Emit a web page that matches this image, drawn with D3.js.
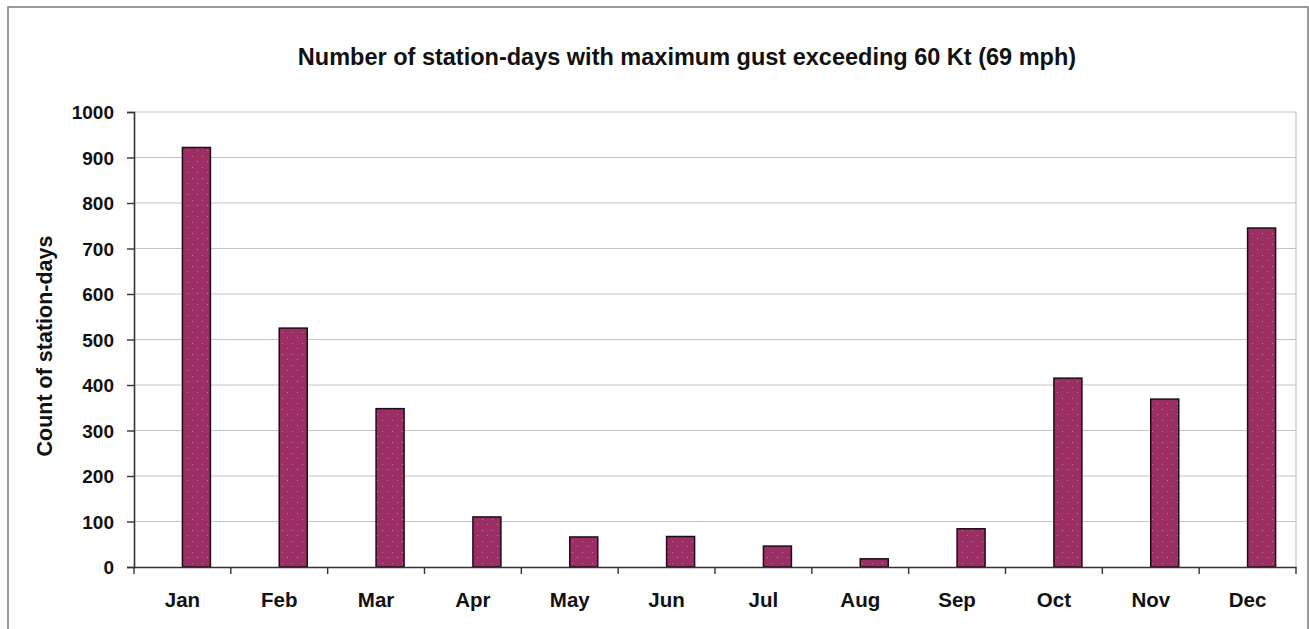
<!DOCTYPE html>
<html>
<head>
<meta charset="utf-8">
<script src="https://cdn.jsdelivr.net/npm/d3@7"></script>
<style>
  html, body { margin: 0; padding: 0; background: #fff; }
  svg { display: block; }
  text { font-family: "Liberation Sans", Arial, sans-serif; font-weight: bold; fill: #111; }
</style>
</head>
<body>
<svg id="chart" width="1309" height="629"></svg>
<script>
const months = ["Jan","Feb","Mar","Apr","May","Jun","Jul","Aug","Sep","Oct","Nov","Dec"];
const counts = [922, 525, 348, 110, 66, 67, 46, 18, 84, 415, 369, 745];
const yTicks = [0, 100, 200, 300, 400, 500, 600, 700, 800, 900, 1000];
const titleText = "Number of station-days with maximum gust exceeding 60 Kt (69 mph)";
const yLabel = "Count of station-days";
const slots = ["empty", "count"];

const W = 1309, H = 629;
const plot = { left: 134, right: 1296, top: 112, bottom: 567 };

const svg = d3.select("#chart");

// pattern for dotted bar fill
const defs = svg.append("defs");
const pat = defs.append("pattern")
  .attr("id", "dots").attr("patternUnits", "userSpaceOnUse")
  .attr("width", 10).attr("height", 11);
pat.append("rect").attr("width", 10).attr("height", 11).attr("fill", "#9b2f63");
pat.append("rect").attr("x", 2).attr("y", 2).attr("width", 1).attr("height", 1).attr("fill", "#c4789a");
pat.append("rect").attr("x", 7).attr("y", 7).attr("width", 1).attr("height", 1).attr("fill", "#c4789a");

// outer frame
svg.append("rect").attr("x", 8).attr("y", 7).attr("width", 1300).attr("height", 640)
  .attr("fill", "#fff").attr("stroke", "#7a7a7a").attr("stroke-width", 1.5);

const x = d3.scaleBand().domain(months).range([plot.left, plot.right]).paddingInner(0).paddingOuter(0);
const xInner = d3.scaleBand().domain(slots).range([0, x.bandwidth()]).paddingInner(0).paddingOuter(0.729);
const y = d3.scaleLinear().domain([0, 1000]).range([plot.bottom, plot.top]);

// gridlines
svg.append("g").selectAll("line").data(yTicks.filter(d => d > 0)).join("line")
  .attr("x1", plot.left).attr("x2", plot.right)
  .attr("y1", d => y(d)).attr("y2", d => y(d))
  .attr("stroke", "#c4c4c4").attr("stroke-width", 1.2);

// right plot border
svg.append("line").attr("x1", plot.right).attr("x2", plot.right)
  .attr("y1", plot.top).attr("y2", plot.bottom)
  .attr("stroke", "#c4c4c4").attr("stroke-width", 1.2);

// bars
svg.append("g").selectAll("rect").data(months.map((m, i) => ({ m, v: counts[i] }))).join("rect")
  .attr("x", d => x(d.m) + xInner("count"))
  .attr("width", xInner.bandwidth())
  .attr("y", d => y(d.v))
  .attr("height", d => y(0) - y(d.v))
  .attr("fill", "url(#dots)")
  .attr("stroke", "#1e0c16").attr("stroke-width", 1.5);

// y axis
const yAxis = d3.axisLeft(y).tickValues(yTicks).tickSize(7).tickPadding(13).tickFormat(d3.format("d"));
const gy = svg.append("g").attr("transform", `translate(${plot.left},0)`).call(yAxis);
gy.select(".domain").attr("stroke", "#333").attr("stroke-width", 1.6);
gy.selectAll(".tick line").attr("stroke", "#333").attr("stroke-width", 1.4);
gy.selectAll(".tick text").style("font-size", "19px").style("font-family", "Liberation Sans, Arial, sans-serif").style("font-weight", "bold").attr("fill", "#111").attr("dy", "0.35em");

// x axis
const xAxis = d3.axisBottom(x).tickSize(0).tickPadding(25);
const gx = svg.append("g").attr("transform", `translate(0,${plot.bottom})`).call(xAxis);
gx.select(".domain").attr("stroke", "#333").attr("stroke-width", 1.6);
gx.selectAll(".tick text").style("font-size", "20.5px").style("font-family", "Liberation Sans, Arial, sans-serif").style("font-weight", "bold").attr("fill", "#111");
// boundary ticks between categories
const bounds = months.map(m => x(m)).concat([plot.right]);
gx.append("g").selectAll("line").data(bounds).join("line")
  .attr("x1", d => d).attr("x2", d => d).attr("y1", 0).attr("y2", 7)
  .attr("stroke", "#333").attr("stroke-width", 1.4);

// title
svg.append("text").attr("x", 687).attr("y", 65).attr("text-anchor", "middle")
  .style("font-size", "23.5px").text(titleText);

// y label
svg.append("text").attr("transform", "translate(52,346) rotate(-90)").attr("text-anchor", "middle")
  .style("font-size", "21.5px").text(yLabel);
</script>
</body>
</html>
